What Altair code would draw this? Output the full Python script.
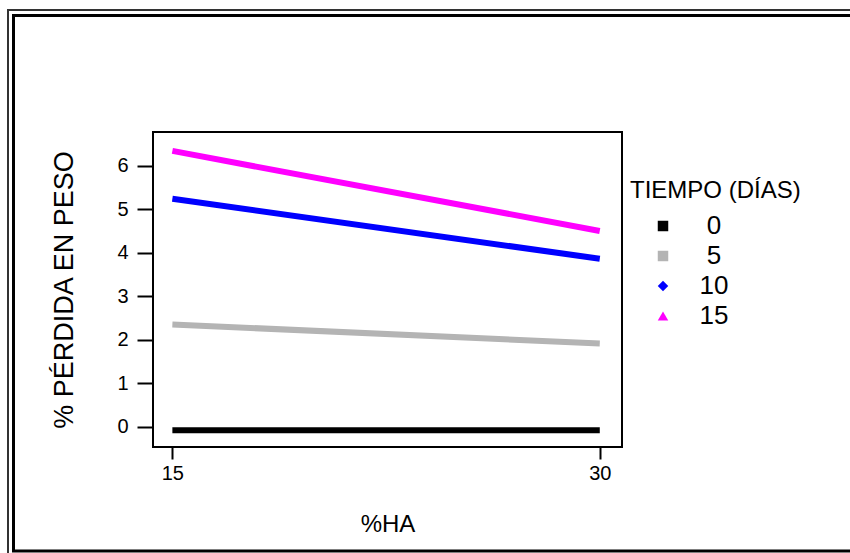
import altair as alt
import pandas as pd

# Data
ha = [15, 30]
tiempos = ["0", "5", "10", "15"]
perdida_0 = [-0.08, -0.08]
perdida_5 = [2.35, 1.91]
perdida_10 = [5.24, 3.86]
perdida_15 = [6.34, 4.50]

colors = ["#000000", "#b4b4b4", "#0000ff", "#ff00ff"]
shapes = ["square", "square", "diamond", "triangle-up"]

rows = []
for t, vals in zip(tiempos, [perdida_0, perdida_5, perdida_10, perdida_15]):
    for x, v in zip(ha, vals):
        rows.append({"ha": x, "perdida": v, "tiempo": t})
df = pd.DataFrame(rows)

FONT = "Liberation Sans"

xenc = alt.X("ha:Q", scale=alt.Scale(domain=[14.32, 30.78], nice=False, zero=False),
             axis=alt.Axis(values=[15, 30], title="%HA", tickSize=12, labelPadding=4,
                           titlePadding=29, labelFontSize=20, titleFontSize=24,
                           grid=False, domain=False, tickColor="black", tickWidth=2,
                           labelColor="black", titleColor="black", titleFontWeight="normal",
                           labelFont=FONT, titleFont=FONT))
yenc = alt.Y("perdida:Q", scale=alt.Scale(domain=[-0.467, 6.775], nice=False, zero=False),
             axis=alt.Axis(values=[0, 1, 2, 3, 4, 5, 6], title="% PÉRDIDA EN PESO", tickSize=16,
                           labelPadding=9, titlePadding=38, labelFontSize=20, titleFontSize=27,
                           grid=False, domain=False, tickColor="black", tickWidth=2,
                           labelColor="black", titleColor="black", titleFontWeight="normal",
                           labelFont=FONT, titleFont=FONT))

legend = alt.Legend(
    orient="none", legendX=477, legendY=47, padding=0, title="TIEMPO (DÍAS)",
    titleFont=FONT, titleFontSize=24, titleFontWeight="normal", titleColor="black",
    titlePadding=10, labelFont=FONT, labelFontSize=26, labelColor="black",
    labelAlign="center", labelOffset=38, symbolOffset=20, symbolSize=110,
    symbolOpacity=1, symbolStrokeWidth=0, rowPadding=4, titleLimit=400,
    symbolType="square",
)

color = alt.Color("tiempo:N", sort=tiempos, scale=alt.Scale(domain=tiempos, range=colors),
                  legend=legend)
shape = alt.Shape("tiempo:N", sort=tiempos, scale=alt.Scale(domain=tiempos, range=shapes),
                  legend=legend)

lines = alt.Chart(df).mark_line(strokeWidth=6, strokeCap="butt").encode(
    x=xenc, y=yenc, color=color,
)

points = alt.Chart(df).mark_point(filled=True, size=1, opacity=0.01).encode(
    x="ha:Q", y="perdida:Q", color=color, shape=shape,
)

frame_data = alt.Data(values=[{"k": 1}])
outer = alt.Chart(frame_data).mark_rect(fillOpacity=0, stroke="#333333", strokeWidth=2).encode(
    x=alt.value(-145), x2=alt.value(720), y=alt.value(-122), y2=alt.value(430))
inner = alt.Chart(frame_data).mark_rect(fillOpacity=0, stroke="black", strokeWidth=3).encode(
    x=alt.value(-139.5), x2=alt.value(720), y=alt.value(-116.5), y2=alt.value(419))

chart = alt.layer(outer, inner, lines, points).properties(
    width=469, height=315,
    autosize=alt.AutoSizeParams(type="none"),
    padding={"left": 153, "top": 132, "right": 228, "bottom": 106},
    background="white",
).configure_view(
    stroke="black", strokeWidth=2
)

chart.save("out.html", embed_options={"renderer": "svg", "actions": False})
